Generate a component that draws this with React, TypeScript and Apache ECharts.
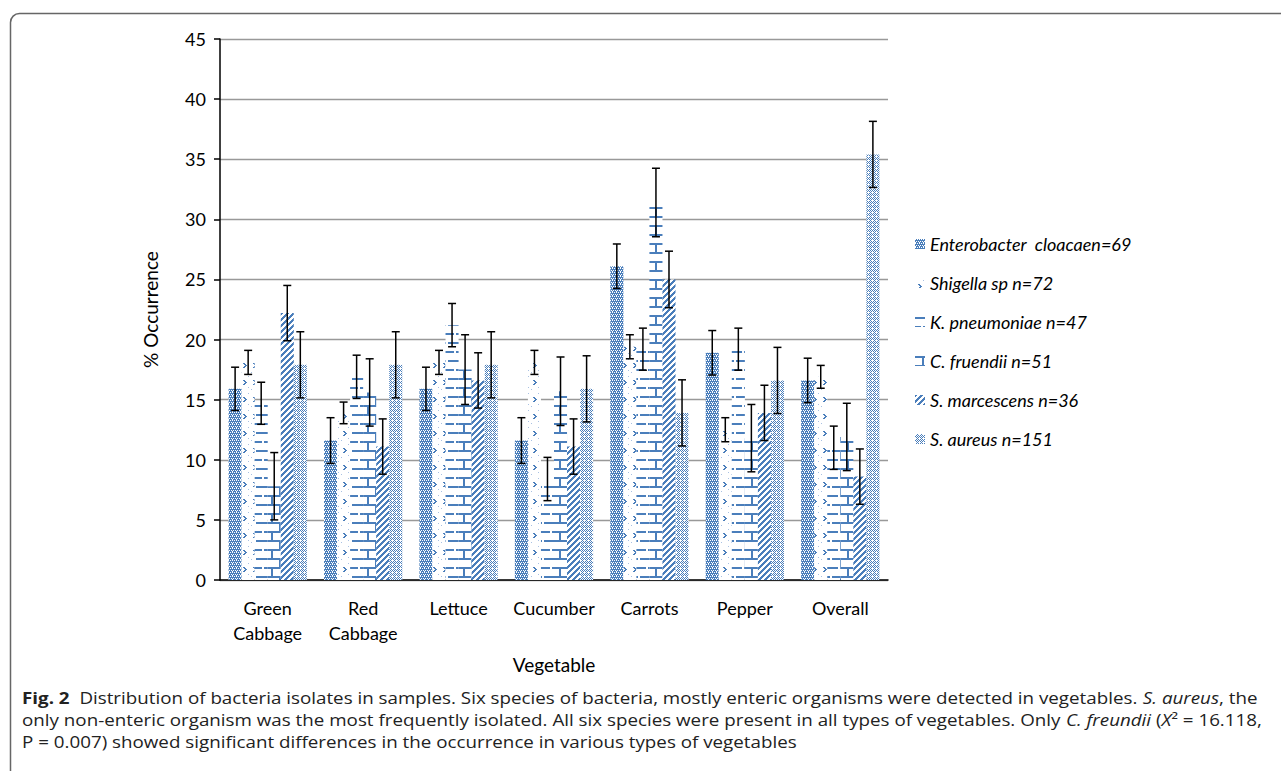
import React, { useEffect, useRef } from "react";
import * as echarts from "echarts";

const categories = ["Green\nCabbage", "Red\nCabbage", "Lettuce", "Cucumber", "Carrots", "Pepper", "Overall"];
const seriesNames = [
  "Enterobacter  cloacaen=69",
  "Shigella sp n=72",
  "K. pneumoniae n=47",
  "C. fruendii n=51",
  "S. marcescens n=36",
  "S. aureus n=151",
];
const enterobacter = [15.9, 11.6, 15.9, 11.6, 26.1, 18.9, 16.6];
const enterobacterErr = [1.8, 1.9, 1.8, 1.9, 1.85, 1.85, 1.85];
const shigella = [18.1, 13.9, 18.1, 18.1, 19.4, 12.5, 16.9];
const shigellaErr = [1.0, 0.9, 1.0, 1.0, 1.0, 1.0, 0.95];
const kpneumoniae = [14.7, 16.9, 21.2, 8.4, 19.2, 19.2, 11.0];
const kpneumoniaeErr = [1.75, 1.8, 1.8, 1.8, 1.75, 1.75, 1.8];
const cfruendii = [7.8, 15.6, 17.5, 15.7, 31.4, 11.8, 11.9];
const cfruendiiErr = [2.8, 2.8, 2.9, 2.85, 2.85, 2.8, 2.8];
const smarcescens = [22.2, 11.1, 16.6, 11.1, 25.0, 13.9, 8.6];
const smarcescensErr = [2.3, 2.3, 2.3, 2.3, 2.35, 2.3, 2.3];
const saureus = [17.9, 17.9, 17.9, 15.9, 13.9, 16.6, 35.4];
const saureusErr = [2.75, 2.75, 2.75, 2.75, 2.75, 2.75, 2.75];

const yTicks = { min: 0, max: 45, interval: 5 };

const captionLines = [
  "{b|Fig. 2}  Distribution of bacteria isolates in samples. Six species of bacteria, mostly enteric organisms were detected in vegetables. {i|S. aureus}, the",
  "only non-enteric organism was the most frequently isolated. All six species were present in all types of vegetables. Only {i|C. freundii} ({i|X}² = 16.118,",
  "P = 0.007) showed significant differences in the occurrence in various types of vegetables",
];

const BLUE = "#4a7ebb";

function makeTile(w: number, h: number, draw: (ctx: CanvasRenderingContext2D) => void) {
  const c = document.createElement("canvas");
  c.width = w;
  c.height = h;
  const ctx = c.getContext("2d")!;
  ctx.fillStyle = "#ffffff";
  ctx.fillRect(0, 0, w, h);
  ctx.fillStyle = BLUE;
  draw(ctx);
  return { image: c, repeat: "repeat", imageWidth: w, imageHeight: h } as any;
}

function makePatterns() {
  const pE = makeTile(4, 4, (ctx) => {
    ctx.fillRect(0, 0, 4, 4);
    ctx.fillStyle = "#ffffff";
    [[0, 0], [2, 0], [1, 2], [3, 2], [0, 3]].forEach(([x, y]) => ctx.fillRect(x, y, 1, 1));
  });
  const pS = makeTile(10, 17, (ctx) => {
    ctx.fillRect(3, 6, 2, 1);
    ctx.fillRect(4, 7, 2, 1);
    ctx.fillRect(5, 8, 2, 1);
    ctx.fillRect(4, 9, 2, 1);
    ctx.fillRect(3, 10, 2, 1);
    ctx.fillStyle = "#a9c1e2";
    ctx.fillRect(8, 2, 1, 1);
    ctx.fillRect(8, 13, 1, 1);
    ctx.fillRect(1, 15, 1, 1);
  });
  const pK = makeTile(16, 18, (ctx) => {
    ctx.fillRect(0, 0, 14, 2);
    ctx.fillRect(0, 9, 6, 2);
    ctx.fillRect(8, 9, 8, 2);
  });
  const pC = makeTile(16, 18, (ctx) => {
    ctx.fillRect(0, 0, 16, 2);
    ctx.fillRect(0, 9, 16, 2);
    ctx.fillRect(7, 2, 2, 7);
    ctx.fillRect(0, 11, 1, 7);
    ctx.fillRect(15, 11, 1, 7);
  });
  const pM = makeTile(6, 6, (ctx) => {
    for (let i = 0; i < 6; i++) {
      for (let k = 0; k < 3; k++) ctx.fillRect((i + k) % 6, 5 - i, 1, 1);
    }
  });
  const pA = makeTile(4, 4, (ctx) => {
    for (let x = 0; x < 4; x++)
      for (let y = 0; y < 4; y++) if ((x + y) % 2 === 0) ctx.fillRect(x, y, 1, 1);
    ctx.fillStyle = "#ffffff";
    ctx.fillRect(0, 0, 1, 1);
  });
  return [pE, pS, pK, pC, pM, pA];
}

const CAT_GAP = 0.18;

export default function App() {
  const ref = useRef<HTMLDivElement>(null);
  useEffect(() => {
    document.body.style.margin = "0";
    const chart = echarts.init(ref.current!, null, { renderer: "svg" });
    const patterns = makePatterns();
    const values = [enterobacter, shigella, kpneumoniae, cfruendii, smarcescens, saureus];
    const errs = [enterobacterErr, shigellaErr, kpneumoniaeErr, cfruendiiErr, smarcescensErr, saureusErr];

    const capFont = "Open Sans";
    const capSize = 16;
    const mctx = document.createElement("canvas").getContext("2d")!;
    mctx.font = `${capSize}px "${capFont}"`;
    const plain1 = captionLines[0].replace(/\{[a-z]\|([^}]*)\}/g, "$1");
    const w1 = mctx.measureText(plain1).width || 1200;
    const capScale = 1238 / w1;

    const barSeries = seriesNames.map((name, si) => ({
      name,
      type: "bar",
      data: values[si],
      barGap: "0%",
      barCategoryGap: `${CAT_GAP * 100}%`,
      itemStyle: { color: patterns[si] },
      emphasis: { disabled: true },
      z: 2,
    }));

    const errData: number[][] = [];
    values.forEach((arr, si) => arr.forEach((v, ci) => errData.push([ci, v, errs[si][ci], si])));

    const errSeries = {
      name: "err",
      type: "custom",
      data: errData,
      encode: { x: 0, y: 1 },
      z: 5,
      silent: true,
      renderItem: (params: any, api: any) => {
        const ci = api.value(0);
        const v = api.value(1);
        const e = api.value(2);
        const si = api.value(3);
        const catW = api.size([1, 0])[0];
        const bw = (catW * (1 - CAT_GAP)) / 6;
        const c = api.coord([ci, v]);
        const x = c[0] + (si - 2.5) * bw;
        const yT = api.coord([ci, v + e])[1];
        const yB = api.coord([ci, v - e])[1];
        const hw = 4;
        const st = { stroke: "#000", lineWidth: 1.5 };
        return {
          type: "group",
          children: [
            { type: "line", shape: { x1: x, y1: yT, x2: x, y2: yB }, style: st },
            { type: "line", shape: { x1: x - hw, y1: yT, x2: x + hw, y2: yT }, style: st },
            { type: "line", shape: { x1: x - hw, y1: yB, x2: x + hw, y2: yB }, style: st },
          ],
        };
      },
    };

    const font = "Lato";
    const capRich = {
      b: { fontFamily: capFont, fontSize: capSize, fontWeight: "bold", fill: "#222" },
      i: { fontFamily: capFont, fontSize: capSize, fontStyle: "italic", fill: "#222" },
    };
    const captionGraphics = captionLines.map((t, k) => ({
      type: "text",
      x: 22,
      y: 698 + k * 22,
      scaleX: capScale,
      silent: true,
      style: {
        text: t,
        fontFamily: capFont,
        fontSize: capSize,
        fill: "#222",
        verticalAlign: "middle",
        rich: capRich,
      },
    }));

    chart.setOption({
      animation: false,
      backgroundColor: "#ffffff",
      grid: { left: 220, top: 39, width: 668, height: 541, containLabel: false },
      legend: {
        data: seriesNames,
        orient: "vertical",
        left: 910,
        top: 230,
        itemWidth: 10,
        itemHeight: 10,
        itemGap: 21,
        icon: "rect",
        selectedMode: false,
        textStyle: { fontFamily: font, fontStyle: "italic", fontSize: 18, color: "#000", lineHeight: 16 },
      },
      xAxis: {
        type: "category",
        data: categories,
        name: "Vegetable",
        nameLocation: "middle",
        nameGap: 75,
        nameTextStyle: { fontFamily: font, fontSize: 19, color: "#000" },
        axisLine: { lineStyle: { color: "#000", width: 1.5 } },
        axisTick: { length: 7, lineStyle: { color: "#000", width: 1.5 } },
        axisLabel: { interval: 0, fontFamily: font, fontSize: 18, color: "#000", margin: 15, lineHeight: 25 },
      },
      yAxis: {
        type: "value",
        min: yTicks.min,
        max: yTicks.max,
        interval: yTicks.interval,
        name: "% Occurrence",
        nameLocation: "middle",
        nameGap: 60,
        nameTextStyle: { fontFamily: font, fontSize: 19, color: "#000" },
        axisLine: { show: true, lineStyle: { color: "#000", width: 1.5 } },
        axisTick: { show: true, length: 6, lineStyle: { color: "#000", width: 1.5 } },
        axisLabel: { fontFamily: font, fontSize: 18, color: "#000", margin: 14 },
        splitLine: { lineStyle: { color: "#999", width: 1.3 } },
      },
      graphic: [
        {
          type: "rect",
          shape: { x: 10.5, y: 13.5, width: 1320, height: 820, r: 9 },
          style: { fill: "none", stroke: "#666", lineWidth: 1.5 },
          silent: true,
        },
        ...captionGraphics,
      ],
      series: [...barSeries, errSeries],
    } as any);
    return () => chart.dispose();
  }, []);
  return <div ref={ref} style={{ width: 1281, height: 771 }} />;
}
